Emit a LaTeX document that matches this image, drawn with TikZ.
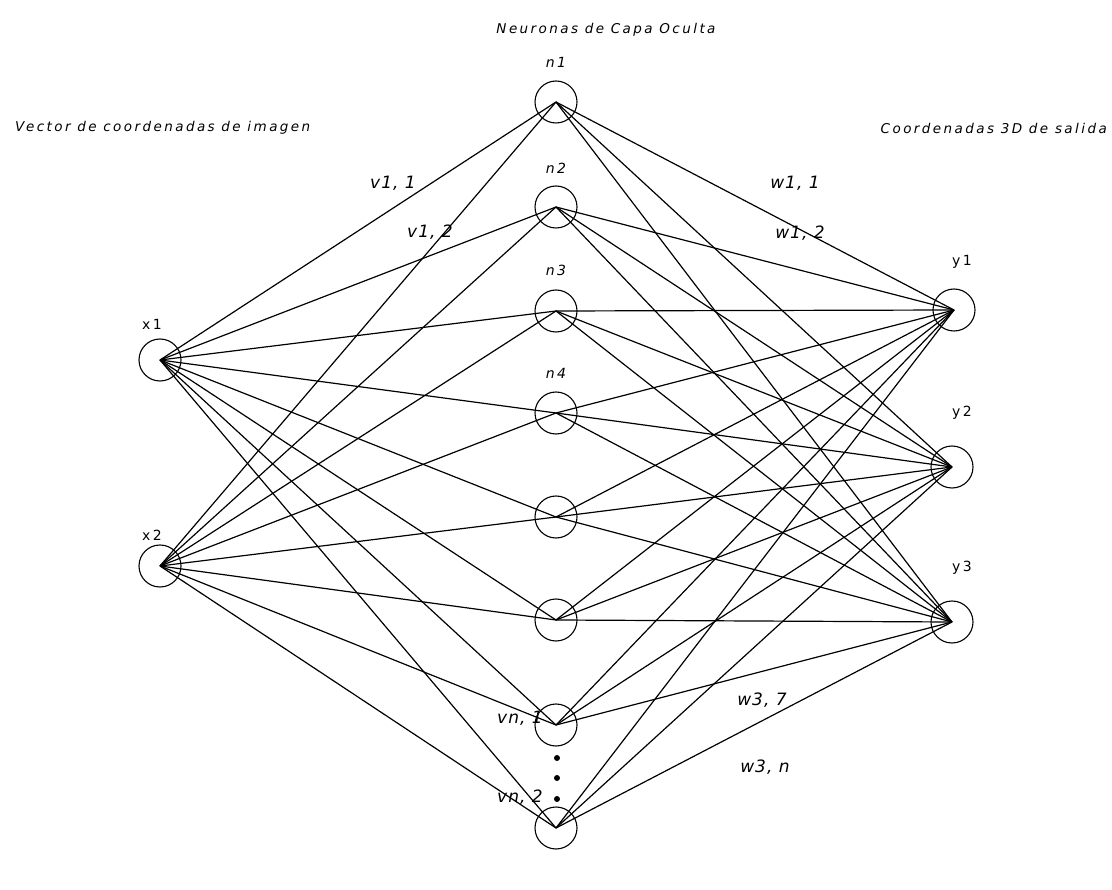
\documentclass[tikz,border=0pt]{standalone}
\usepackage{fontspec}
\newfontfamily\plotfont[LetterSpace=18]{DejaVu Sans}
\newfontfamily\wfont[LetterSpace=6]{DejaVu Sans}
\begin{document}
\begin{tikzpicture}[x=1pt,y=-1pt,
  neuron/.style={circle, draw, line width=1.1pt, minimum size=42pt, inner sep=0pt},
  link/.style={line width=1.2pt},
  title/.style={font=\plotfont\itshape\fontsize{13.5}{15}\selectfont, inner sep=0pt},
  nlbl/.style={font=\plotfont\fontsize{14}{16}\selectfont, inner sep=0pt},
  wlbl/.style={font=\wfont\itshape\fontsize{17}{19}\selectfont, inner sep=0pt},
  dotn/.style={circle, fill, minimum size=6pt, inner sep=0pt}]
\useasboundingbox (0,0) rectangle (1112,890);
% titles
\node[title] (t1) at (606,30) {Neuronas de Capa Oculta};
\node[title, anchor=west] (t2) at (15,128) {Vector de coordenadas de imagen};
\node[title, anchor=east] (t3) at (1107,128) {Coordenadas 3D de salida};
% input neurons
\node[neuron] (x1) at (160,360) {};
\node[neuron] (x2) at (160,566) {};
% hidden neurons
\foreach \i/\yy in {1/102,2/207,3/311,4/413,5/517,6/620,7/725,8/828}
  \node[neuron] (h\i) at (556,\yy) {};
% output neurons
\node[neuron] (y1) at (954,310) {};
\node[neuron] (y2) at (952,467) {};
\node[neuron] (y3) at (952,622) {};
% dots
\node[dotn] (d1) at (557,758) {};
\node[dotn] (d2) at (557,778) {};
\node[dotn] (d3) at (557,799) {};
% connectors
\foreach \i in {1,...,8} {
  \draw[link] (x1.center) -- (h\i.center);
  \draw[link] (x2.center) -- (h\i.center);
  \foreach \o in {1,2,3}
    \draw[link] (h\i.center) -- (y\o.center);
}
% neuron labels
\node[nlbl] (lx1) at (152,324) {x1};
\node[nlbl] (lx2) at (152,535) {x2};
\node[nlbl] (ln1) at (556,62) {\itshape n1};
\node[nlbl] (ln2) at (556,168) {\itshape n2};
\node[nlbl] (ln3) at (556,270) {\itshape n3};
\node[nlbl] (ln4) at (556,373) {\itshape n4};
\node[nlbl] (ly1) at (962,262) {y1};
\node[nlbl] (ly2) at (962,413) {y2};
\node[nlbl] (ly3) at (962,568) {y3};
% weight labels
\node[wlbl] (v11) at (393,183) {v1, 1};
\node[wlbl] (v12) at (430,232) {v1, 2};
\node[wlbl] (w11) at (795,183) {w1, 1};
\node[wlbl] (w12) at (800,233) {w1, 2};
\node[wlbl] (w37) at (762,700) {w3, 7};
\node[wlbl] (w3n) at (765,767) {w3, n};
\node[wlbl] (vn1) at (520,718) {vn, 1};
\node[wlbl] (vn2) at (520,797) {vn, 2};
\end{tikzpicture}
\end{document}
